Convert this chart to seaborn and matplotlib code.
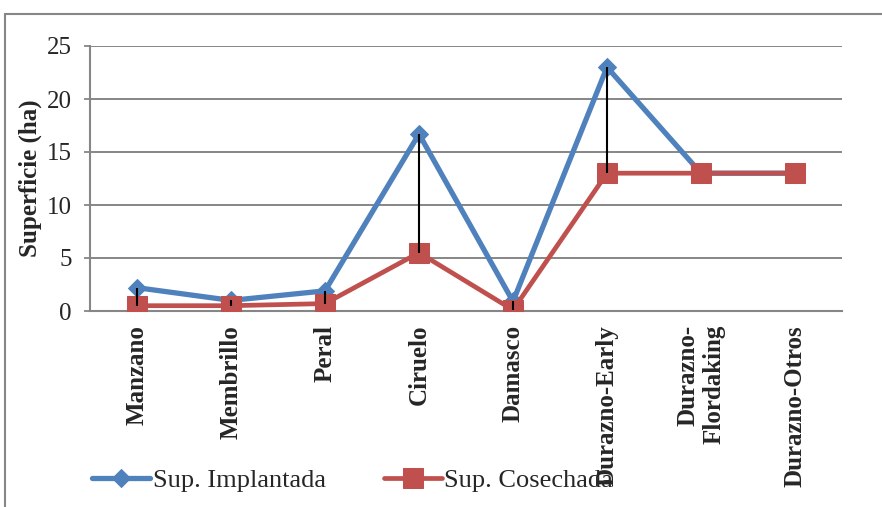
import pandas as pd
import matplotlib.pyplot as plt
import seaborn as sns
from matplotlib.patches import Rectangle

# data
categorias = ['Manzano', 'Membrillo', 'Peral', 'Ciruelo', 'Damasco',
              'Durazno-Early', 'Durazno-\nFlordaking', 'Durazno-Otros']
implantada = [2.2, 1.0, 1.9, 16.7, 0.9, 23.0, 13.0, 13.0]
cosechada = [0.5, 0.5, 0.7, 5.5, 0.1, 13.0, 13.0, 13.0]

sns.set_style('white')
plt.rcParams['font.family'] = ['Liberation Serif', 'DejaVu Serif']

W, H = 882, 507
fig = plt.figure(figsize=(W / 100, H / 100), dpi=100)
ax = fig.add_axes([90 / W, 1 - 311 / H, (842 - 90) / W, (311 - 46) / H])

# outer chart border
fig.patches.append(Rectangle((5 / W, -0.1), 1.2, 1 - 14 / H + 0.1,
                             transform=fig.transFigure, fill=False,
                             edgecolor='#868686', linewidth=1.5, zorder=0))

df = pd.DataFrame({'cat': categorias, 'impl': implantada, 'cos': cosechada})
pos = list(range(len(categorias)))

sns.lineplot(x=pos, y=df['impl'], ax=ax, color='#4F81BD', linewidth=3.8,
             marker='D', markersize=9, markeredgecolor='#4F81BD',
             label='Sup. Implantada', zorder=3)
sns.lineplot(x=pos, y=df['cos'], ax=ax, color='#C0504D', linewidth=3.4,
             marker='s', markersize=14, markeredgecolor='#C0504D',
             label='Sup. Cosechada', zorder=4)

# high-low lines
lo = [min(a, b) for a, b in zip(implantada, cosechada)]
hi = [max(a, b) for a, b in zip(implantada, cosechada)]
ax.vlines(pos, lo, hi, color='black', linewidth=1.5, zorder=5)

ax.set_xlim(-0.5, len(categorias) - 0.5)
ax.set_ylim(0, 25)
ax.set_yticks([0, 5, 10, 15, 20, 25])
ax.yaxis.grid(True, color='#868686', linewidth=1.4)
ax.set_axisbelow(True)
ax.set_xticks(pos)
ax.set_xticklabels(categorias, rotation=90, fontweight='bold', fontsize=18,
                   va='top', ha='center', multialignment='right')
ax.tick_params(axis='x', length=0, pad=10)
ax.tick_params(axis='y', length=4, width=1.3, color='#868686', pad=9,
               labelsize=18, left=True)
for s in ['top', 'right']:
    ax.spines[s].set_visible(False)
for s in ['left', 'bottom']:
    ax.spines[s].set_color('#868686')
    ax.spines[s].set_linewidth(1.5)
ax.set_xlabel('')
ax.set_ylabel('')
fig.text(30 / W, 1 - 178 / H, 'Superficie (ha)', rotation=90, fontsize=18,
         fontweight='bold', ha='center', va='center')

ax.get_legend().remove()
h, l = ax.get_legend_handles_labels()
fig.legend(h, l, loc='center left', bbox_to_anchor=(92 / W, 1 - 480 / H),
           ncol=2, frameon=False, fontsize=19, borderpad=0, borderaxespad=0,
           handlelength=2.2, handletextpad=0.1, columnspacing=2.2)

fig.savefig('out.png', dpi=100)
